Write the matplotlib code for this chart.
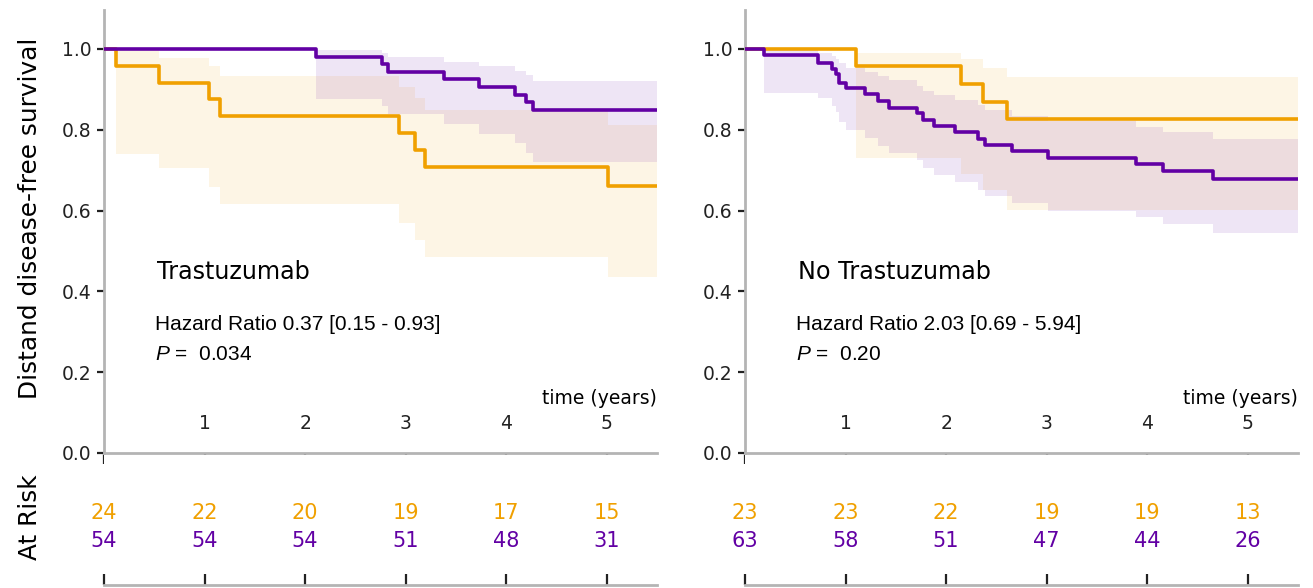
import numpy as np
import matplotlib
matplotlib.use('Agg')
import matplotlib.pyplot as plt

plt.rcParams['font.family'] = ['DejaVu Sans']
plt.rcParams['mathtext.fontset'] = 'custom'
plt.rcParams['mathtext.it'] = 'Liberation Sans:italic'
plt.rcParams['mathtext.rm'] = 'Liberation Sans'

ORANGE = '#f0a000'
PURPLE = '#6200a4'
SPINE = '#b4b4b4'

# Trastuzumab panel, orange group
tr_or_t = [0, 0.115, 0.548, 1.047, 1.158, 2.93, 3.09, 3.19, 5.01, 5.5]
tr_or_s = [1.0, 0.958, 0.917, 0.875, 0.833, 0.792, 0.750, 0.709, 0.662, 0.662]
tr_or_lo = [1.0, 0.739, 0.706, 0.659, 0.616, 0.570, 0.527, 0.484, 0.435, 0.435]
tr_or_hi = [1.0, 1.0, 0.978, 0.957, 0.934, 0.907, 0.878, 0.848, 0.813, 0.813]

# Trastuzumab panel, purple group
tr_pu_t = [0, 2.11, 2.76, 2.82, 3.38, 3.73, 4.09, 4.20, 4.27, 5.5]
tr_pu_s = [1.0, 0.981, 0.962, 0.944, 0.925, 0.906, 0.887, 0.868, 0.849, 0.849]
tr_pu_lo = [1.0, 0.875, 0.860, 0.839, 0.815, 0.790, 0.767, 0.742, 0.720, 0.720]
tr_pu_hi = [1.0, 0.998, 0.989, 0.981, 0.969, 0.958, 0.946, 0.936, 0.922, 0.922]

# No Trastuzumab panel, orange group
no_or_t = [0, 1.105, 2.15, 2.37, 2.61, 5.5]
no_or_s = [1.0, 0.957, 0.913, 0.870, 0.826, 0.826]
no_or_lo = [1.0, 0.729, 0.690, 0.651, 0.601, 0.601]
no_or_hi = [1.0, 0.991, 0.975, 0.954, 0.930, 0.930]

# No Trastuzumab panel, purple group
no_pu_t = [0, 0.19, 0.73, 0.864, 0.906, 0.93, 1.006, 1.195, 1.318, 1.428, 1.71,
           1.77, 1.88, 2.09, 2.32, 2.39, 2.66, 3.01, 3.89, 4.16, 4.65, 5.5]
no_pu_s = [1.0, 0.985, 0.966, 0.950, 0.937, 0.917, 0.904, 0.888, 0.871, 0.855, 0.842,
           0.824, 0.809, 0.795, 0.777, 0.762, 0.747, 0.731, 0.715, 0.698, 0.677, 0.677]
no_pu_lo = [1.0, 0.892, 0.878, 0.859, 0.845, 0.820, 0.800, 0.779, 0.760, 0.742, 0.725,
            0.705, 0.688, 0.672, 0.651, 0.636, 0.618, 0.600, 0.585, 0.568, 0.545, 0.545]
no_pu_hi = [1.0, 0.998, 0.989, 0.983, 0.975, 0.965, 0.952, 0.944, 0.933, 0.923, 0.908,
            0.896, 0.886, 0.874, 0.861, 0.849, 0.834, 0.822, 0.808, 0.795, 0.777, 0.777]

risk_years = [0, 1, 2, 3, 4, 5]
tr_risk_or = [24, 22, 20, 19, 17, 15]
tr_risk_pu = [54, 54, 54, 51, 48, 31]
no_risk_or = [23, 23, 22, 19, 19, 13]
no_risk_pu = [63, 58, 51, 47, 44, 26]

titles = ['Trastuzumab', 'No Trastuzumab']
hazard = ['Hazard Ratio 0.37 [0.15 - 0.93]', 'Hazard Ratio 2.03 [0.69 - 5.94]']
pvals = ['0.034', '0.20']

panels = [
    ((tr_or_t, tr_or_s, tr_or_lo, tr_or_hi), (tr_pu_t, tr_pu_s, tr_pu_lo, tr_pu_hi),
     tr_risk_or, tr_risk_pu),
    ((no_or_t, no_or_s, no_or_lo, no_or_hi), (no_pu_t, no_pu_s, no_pu_lo, no_pu_hi),
     no_risk_or, no_risk_pu),
]

W, H = 1313, 588
fig = plt.figure(figsize=(W / 100, H / 100), dpi=100)

lefts = [104, 745]
for idx, (orange, purple, risk_or, risk_pu) in enumerate(panels):
    left = lefts[idx]
    ax = fig.add_axes([left / W, 135 / H, 553 / W, 443 / H])
    rax = fig.add_axes([left / W, 3 / H, 553 / W, 130 / H])

    # curves and confidence bands
    for (t, s, lo, hi), color in [(orange, ORANGE), (purple, PURPLE)]:
        ax.fill_between(t, lo, hi, step='post', color=color, alpha=0.1, lw=0)
    for (t, s, lo, hi), color in [(orange, ORANGE), (purple, PURPLE)]:
        ax.step(t, s, where='post', color=color, lw=2.6, zorder=5)

    # text
    ax.text(0.53, 0.448, titles[idx], fontsize=17.2, va='center', ha='left')
    ax.text(0.51, 0.319, hazard[idx], fontsize=15, va='center', ha='left',
            family='Liberation Sans')
    ax.text(0.51, 0.245, r'$P$ =  ' + pvals[idx], fontsize=15, va='center', ha='left',
            family='Liberation Sans')
    ax.text(5.5, 0.136, 'time (years)', fontsize=13.5, ha='right', va='center')

    # axes style
    ax.set_xlim(0, 5.5)
    ax.set_ylim(0, 1.0965)
    ax.set_xticks(risk_years)
    ax.set_xticklabels([''] + [str(k) for k in risk_years[1:]])
    ax.set_yticks(np.arange(0, 1.01, 0.2))
    ax.set_yticklabels(['%.1f' % v for v in np.arange(0, 1.01, 0.2)])
    ax.tick_params(axis='x', direction='out', length=8, width=1.6, pad=-36,
                   labelsize=13.5, colors='#222222')
    ax.tick_params(axis='y', direction='out', length=5, width=1.6, pad=4,
                   labelsize=13.5, colors='#222222')
    for side in ['top', 'right']:
        ax.spines[side].set_visible(False)
    for side in ['left', 'bottom']:
        ax.spines[side].set_color(SPINE)
        ax.spines[side].set_linewidth(2)

    # at-risk table
    for k, year in enumerate(risk_years):
        rax.text(year, 0.554, str(risk_or[k]), color=ORANGE, fontsize=15,
                 ha='center', va='center')
        rax.text(year, 0.338, str(risk_pu[k]), color=PURPLE, fontsize=15,
                 ha='center', va='center')
    rax.set_xlim(0, 5.5)
    rax.set_ylim(0, 1)
    rax.set_xticks(risk_years)
    rax.set_xticklabels([])
    rax.set_yticks([])
    rax.tick_params(axis='x', direction='in', length=8, width=1.6, colors='#222222')
    for side in ['top', 'right', 'left']:
        rax.spines[side].set_visible(False)
    rax.spines['bottom'].set_color(SPINE)
    rax.spines['bottom'].set_linewidth(2)

    if idx == 0:
        ax.set_ylabel('Distand disease-free survival', fontsize=17.8)
        ax.yaxis.set_label_coords(-0.112, 0.53)
        rax.set_ylabel('At Risk', fontsize=17.8)
        rax.yaxis.set_label_coords(-0.112, 0.52)

fig.savefig('out.png', dpi=100)
